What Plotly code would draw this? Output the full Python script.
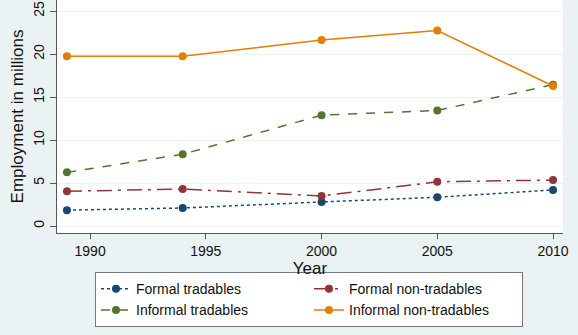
import plotly.graph_objects as go

years = [1989, 1994, 2000, 2005, 2010]
formal_tradables = [1.85, 2.1, 2.8, 3.35, 4.2]
formal_nontradables = [4.05, 4.3, 3.5, 5.15, 5.35]
informal_tradables = [6.25, 8.35, 12.9, 13.45, 16.45]
informal_nontradables = [19.75, 19.75, 21.65, 22.75, 16.3]

series = [
    ("Formal tradables", formal_tradables, "#1A476F", "dot"),
    ("Formal non-tradables", formal_nontradables, "#90353B", "longdashdot"),
    ("Informal tradables", informal_tradables, "#55752F", "dash"),
    ("Informal non-tradables", informal_nontradables, "#E37E00", "solid"),
]

fig = go.Figure()
for name, vals, color, dash in series:
    fig.add_trace(go.Scatter(
        x=years, y=vals, name=name, mode="lines+markers",
        line=dict(color=color, width=1.5, dash=dash),
        marker=dict(color=color, size=8),
    ))

font = "Liberation Sans, Arial, sans-serif"
fig.update_layout(
    width=578, height=335,
    margin=dict(l=57, r=15, t=0, b=102),
    paper_bgcolor="#EAF2F3", plot_bgcolor="white",
    font=dict(family=font, size=14, color="#111"),
    showlegend=True,
    legend=dict(
        orientation="h", x=0.498, xanchor="center", y=-0.168, yanchor="top",
        bgcolor="white", bordercolor="#777", borderwidth=1,
        entrywidth=168, entrywidthmode="pixels",
        font=dict(size=14), traceorder="normal", tracegroupgap=0,
    ),
    xaxis=dict(
        range=[1988.57, 2010.43], tickvals=[1990, 1995, 2000, 2005, 2010],
        showgrid=False, zeroline=False, showline=True, linecolor="#555", linewidth=1,
        ticks="outside", ticklen=5, tickcolor="#555",
        title=dict(text="Year", standoff=0), tickfont=dict(size=14),
    ),
    yaxis=dict(
        range=[-0.81, 26.3], tickvals=[0, 5, 10, 15, 20, 25], tickangle=-90,
        showgrid=True, gridcolor="#EAF2F3", gridwidth=1, zeroline=False,
        showline=True, linecolor="#555", linewidth=1,
        ticks="outside", ticklen=6, tickcolor="#555",
        title=dict(text="Employment in millions", standoff=3), tickfont=dict(size=14),
    ),
)

fig.write_html("out.html")
